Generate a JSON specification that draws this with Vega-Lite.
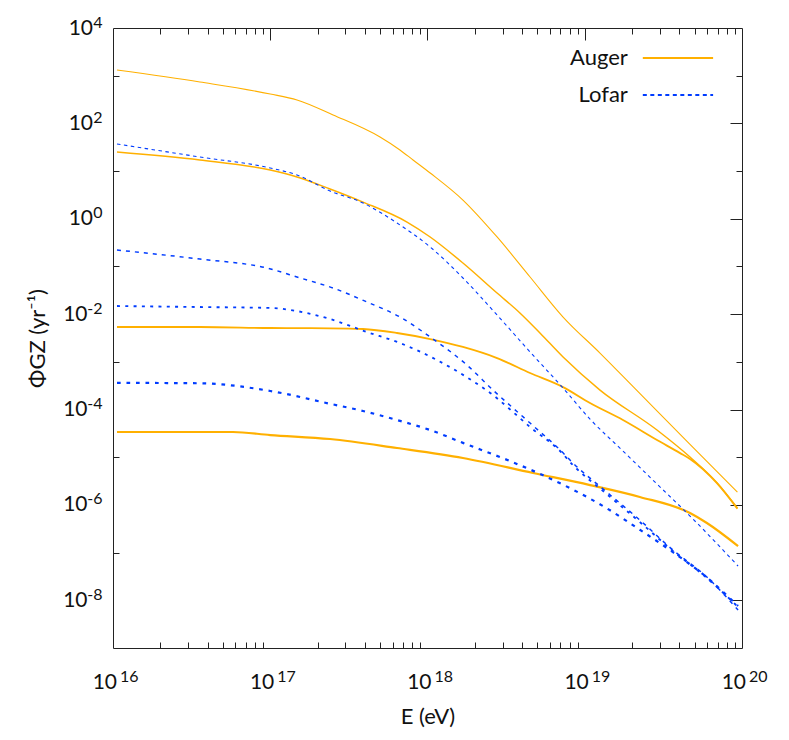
{
  "$schema": "https://vega.github.io/schema/vega-lite/v6.json",
  "width": 629,
  "height": 620,
  "autosize": {"type": "none"},
  "padding": {"left": 113, "top": 28, "right": 47, "bottom": 92},
  "background": "white",
  "config": {
    "font": "Lato",
    "view": {"stroke": "#222", "strokeWidth": 1},
    "axis": {
      "domain": false,
      "grid": false,
      "labelFlush": false,
      "labelOverlap": false,
      "labelColor": "#111",
      "labelFont": "Lato",
      "tickColor": "#222",
      "tickWidth": 1,
      "titleColor": "#111",
      "titleFont": "Lato",
      "titleFontWeight": "normal"
    }
  },
  "data": {
    "values": [
      {"detector": "Auger", "curve": 1, "E": 1.06e16, "phi": 1315},
      {"detector": "Auger", "curve": 1, "E": 3.57e16, "phi": 738},
      {"detector": "Auger", "curve": 1, "E": 1e17, "phi": 413},
      {"detector": "Auger", "curve": 1, "E": 1.48e17, "phi": 309},
      {"detector": "Auger", "curve": 1, "E": 2.51e17, "phi": 150},
      {"detector": "Auger", "curve": 1, "E": 4.99e17, "phi": 51.8},
      {"detector": "Auger", "curve": 1, "E": 6.68e17, "phi": 27.7},
      {"detector": "Auger", "curve": 1, "E": 8.09e17, "phi": 17.1},
      {"detector": "Auger", "curve": 1, "E": 1.04e18, "phi": 9.12},
      {"detector": "Auger", "curve": 1, "E": 1.68e18, "phi": 2.47},
      {"detector": "Auger", "curve": 1, "E": 2.77e18, "phi": 0.415},
      {"detector": "Auger", "curve": 1, "E": 4.49e18, "phi": 0.0601},
      {"detector": "Auger", "curve": 1, "E": 7.28e18, "phi": 8.71e-3},
      {"detector": "Auger", "curve": 1, "E": 1.25e19, "phi": 1.53e-3},
      {"detector": "Auger", "curve": 1, "E": 2.09e19, "phi": 2.75e-4},
      {"detector": "Auger", "curve": 1, "E": 4.67e19, "phi": 1.87e-5},
      {"detector": "Auger", "curve": 1, "E": 9.35e19, "phi": 1.86e-6},

      {"detector": "Auger", "curve": 2, "E": 1.06e16, "phi": 25.1},
      {"detector": "Auger", "curve": 2, "E": 3.57e16, "phi": 17.1},
      {"detector": "Auger", "curve": 2, "E": 1e17, "phi": 10.5},
      {"detector": "Auger", "curve": 2, "E": 1.48e17, "phi": 7.52},
      {"detector": "Auger", "curve": 2, "E": 2.40e17, "phi": 4.21},
      {"detector": "Auger", "curve": 2, "E": 3.89e17, "phi": 2.24},
      {"detector": "Auger", "curve": 2, "E": 7.41e17, "phi": 0.855},
      {"detector": "Auger", "curve": 2, "E": 1.04e18, "phi": 0.415},
      {"detector": "Auger", "curve": 2, "E": 1.68e18, "phi": 0.118},
      {"detector": "Auger", "curve": 2, "E": 2.77e18, "phi": 0.0277},
      {"detector": "Auger", "curve": 2, "E": 3.87e18, "phi": 0.0106},
      {"detector": "Auger", "curve": 2, "E": 5.19e18, "phi": 4.03e-3},
      {"detector": "Auger", "curve": 2, "E": 7.28e18, "phi": 1.26e-3},
      {"detector": "Auger", "curve": 2, "E": 1.25e19, "phi": 2.56e-4},
      {"detector": "Auger", "curve": 2, "E": 2.88e19, "phi": 3.72e-5},
      {"detector": "Auger", "curve": 2, "E": 4.67e19, "phi": 1.01e-5},
      {"detector": "Auger", "curve": 2, "E": 6.93e19, "phi": 2.93e-6},
      {"detector": "Auger", "curve": 2, "E": 9.35e19, "phi": 8.6e-7},

      {"detector": "Auger", "curve": 3, "E": 1.06e16, "phi": 5.37e-3},
      {"detector": "Auger", "curve": 3, "E": 3.57e16, "phi": 5.37e-3},
      {"detector": "Auger", "curve": 3, "E": 1e17, "phi": 5.12e-3},
      {"detector": "Auger", "curve": 3, "E": 2.40e17, "phi": 5.05e-3},
      {"detector": "Auger", "curve": 3, "E": 3.89e17, "phi": 4.88e-3},
      {"detector": "Auger", "curve": 3, "E": 6.40e17, "phi": 4.03e-3},
      {"detector": "Auger", "curve": 3, "E": 1.04e18, "phi": 3.01e-3},
      {"detector": "Auger", "curve": 3, "E": 1.68e18, "phi": 2.05e-3},
      {"detector": "Auger", "curve": 3, "E": 2.77e18, "phi": 1.20e-3},
      {"detector": "Auger", "curve": 3, "E": 4.49e18, "phi": 5.83e-4},
      {"detector": "Auger", "curve": 3, "E": 7.28e18, "phi": 2.96e-4},
      {"detector": "Auger", "curve": 3, "E": 1.08e19, "phi": 1.37e-4},
      {"detector": "Auger", "curve": 3, "E": 1.75e19, "phi": 6.03e-5},
      {"detector": "Auger", "curve": 3, "E": 2.88e19, "phi": 2.30e-5},
      {"detector": "Auger", "curve": 3, "E": 4.04e19, "phi": 1.22e-5},
      {"detector": "Auger", "curve": 3, "E": 4.67e19, "phi": 9.18e-6},
      {"detector": "Auger", "curve": 3, "E": 6.93e19, "phi": 2.85e-6},
      {"detector": "Auger", "curve": 3, "E": 9.35e19, "phi": 8.3e-7},

      {"detector": "Auger", "curve": 4, "E": 1.06e16, "phi": 3.38e-5},
      {"detector": "Auger", "curve": 4, "E": 5.79e16, "phi": 3.38e-5},
      {"detector": "Auger", "curve": 4, "E": 1e17, "phi": 2.92e-5},
      {"detector": "Auger", "curve": 4, "E": 2.40e17, "phi": 2.41e-5},
      {"detector": "Auger", "curve": 4, "E": 6.40e17, "phi": 1.56e-5},
      {"detector": "Auger", "curve": 4, "E": 1.68e18, "phi": 9.62e-6},
      {"detector": "Auger", "curve": 4, "E": 4.69e18, "phi": 4.67e-6},
      {"detector": "Auger", "curve": 4, "E": 1.08e19, "phi": 2.61e-6},
      {"detector": "Auger", "curve": 4, "E": 2.24e19, "phi": 1.47e-6},
      {"detector": "Auger", "curve": 4, "E": 4.67e19, "phi": 6.76e-7},
      {"detector": "Auger", "curve": 4, "E": 5.98e19, "phi": 4.18e-7},
      {"detector": "Auger", "curve": 4, "E": 9.44e19, "phi": 1.37e-7},

      {"detector": "Lofar", "curve": 1, "E": 1.06e16, "phi": 37.0},
      {"detector": "Lofar", "curve": 1, "E": 3.57e16, "phi": 19.7},
      {"detector": "Lofar", "curve": 1, "E": 1e17, "phi": 11.6},
      {"detector": "Lofar", "curve": 1, "E": 1.48e17, "phi": 8.28},
      {"detector": "Lofar", "curve": 1, "E": 2.40e17, "phi": 3.82},
      {"detector": "Lofar", "curve": 1, "E": 3.89e17, "phi": 2.14},
      {"detector": "Lofar", "curve": 1, "E": 6.40e17, "phi": 0.815},
      {"detector": "Lofar", "curve": 1, "E": 1.04e18, "phi": 0.256},
      {"detector": "Lofar", "curve": 1, "E": 1.68e18, "phi": 0.0573},
      {"detector": "Lofar", "curve": 1, "E": 2.77e18, "phi": 9.59e-3},
      {"detector": "Lofar", "curve": 1, "E": 4.49e18, "phi": 1.61e-3},
      {"detector": "Lofar", "curve": 1, "E": 7.28e18, "phi": 2.82e-4},
      {"detector": "Lofar", "curve": 1, "E": 1.08e19, "phi": 6.32e-5},
      {"detector": "Lofar", "curve": 1, "E": 1.75e19, "phi": 1.35e-5},
      {"detector": "Lofar", "curve": 1, "E": 2.88e19, "phi": 2.74e-6},
      {"detector": "Lofar", "curve": 1, "E": 4.67e19, "phi": 5.85e-7},
      {"detector": "Lofar", "curve": 1, "E": 9.44e19, "phi": 5.24e-8},

      {"detector": "Lofar", "curve": 2, "E": 1.06e16, "phi": 0.221},
      {"detector": "Lofar", "curve": 2, "E": 3.57e16, "phi": 0.143},
      {"detector": "Lofar", "curve": 2, "E": 9.53e16, "phi": 0.0927},
      {"detector": "Lofar", "curve": 2, "E": 1.55e17, "phi": 0.0573},
      {"detector": "Lofar", "curve": 2, "E": 2.51e17, "phi": 0.0353},
      {"detector": "Lofar", "curve": 2, "E": 4.12e17, "phi": 0.018},
      {"detector": "Lofar", "curve": 2, "E": 6.68e17, "phi": 8.71e-3},
      {"detector": "Lofar", "curve": 2, "E": 1.04e18, "phi": 3.32e-3},
      {"detector": "Lofar", "curve": 2, "E": 1.78e18, "phi": 8.59e-4},
      {"detector": "Lofar", "curve": 2, "E": 2.61e18, "phi": 2.56e-4},
      {"detector": "Lofar", "curve": 2, "E": 4.49e18, "phi": 5.21e-5},
      {"detector": "Lofar", "curve": 2, "E": 6.97e18, "phi": 1.42e-5},
      {"detector": "Lofar", "curve": 2, "E": 8.41e18, "phi": 7.57e-6},
      {"detector": "Lofar", "curve": 2, "E": 1.38e19, "phi": 1.86e-6},
      {"detector": "Lofar", "curve": 2, "E": 2.24e19, "phi": 4.82e-7},
      {"detector": "Lofar", "curve": 2, "E": 3.64e19, "phi": 1.13e-7},
      {"detector": "Lofar", "curve": 2, "E": 5.98e19, "phi": 3.08e-8},
      {"detector": "Lofar", "curve": 2, "E": 9.44e19, "phi": 6.25e-9},

      {"detector": "Lofar", "curve": 3, "E": 1.06e16, "phi": 0.0148},
      {"detector": "Lofar", "curve": 3, "E": 3.57e16, "phi": 0.0141},
      {"detector": "Lofar", "curve": 3, "E": 1e17, "phi": 0.0135},
      {"detector": "Lofar", "curve": 3, "E": 1.48e17, "phi": 0.0116},
      {"detector": "Lofar", "curve": 3, "E": 2.40e17, "phi": 7.91e-3},
      {"detector": "Lofar", "curve": 3, "E": 4.12e17, "phi": 4.22e-3},
      {"detector": "Lofar", "curve": 3, "E": 6.68e17, "phi": 2.48e-3},
      {"detector": "Lofar", "curve": 3, "E": 1.15e18, "phi": 1.09e-3},
      {"detector": "Lofar", "curve": 3, "E": 1.81e18, "phi": 4.58e-4},
      {"detector": "Lofar", "curve": 3, "E": 2.61e18, "phi": 2.01e-4},
      {"detector": "Lofar", "curve": 3, "E": 3.50e18, "phi": 8.87e-5},
      {"detector": "Lofar", "curve": 3, "E": 4.49e18, "phi": 4.30e-5},
      {"detector": "Lofar", "curve": 3, "E": 6.97e18, "phi": 1.35e-5},
      {"detector": "Lofar", "curve": 3, "E": 8.41e18, "phi": 6.87e-6},
      {"detector": "Lofar", "curve": 3, "E": 1.38e19, "phi": 1.69e-6},
      {"detector": "Lofar", "curve": 3, "E": 2.24e19, "phi": 4.38e-7},
      {"detector": "Lofar", "curve": 3, "E": 3.64e19, "phi": 1.08e-7},
      {"detector": "Lofar", "curve": 3, "E": 5.98e19, "phi": 2.93e-8},
      {"detector": "Lofar", "curve": 3, "E": 9.44e19, "phi": 7.23e-9},

      {"detector": "Lofar", "curve": 4, "E": 1.06e16, "phi": 3.63e-4},
      {"detector": "Lofar", "curve": 4, "E": 3.57e16, "phi": 3.55e-4},
      {"detector": "Lofar", "curve": 4, "E": 1e17, "phi": 2.45e-4},
      {"detector": "Lofar", "curve": 4, "E": 2.40e17, "phi": 1.32e-4},
      {"detector": "Lofar", "curve": 4, "E": 3.89e17, "phi": 9.33e-5},
      {"detector": "Lofar", "curve": 4, "E": 6.40e17, "phi": 6.03e-5},
      {"detector": "Lofar", "curve": 4, "E": 1.04e18, "phi": 3.72e-5},
      {"detector": "Lofar", "curve": 4, "E": 1.68e18, "phi": 2.0e-5},
      {"detector": "Lofar", "curve": 4, "E": 3.35e18, "phi": 8.3e-6},
      {"detector": "Lofar", "curve": 4, "E": 5.44e18, "phi": 4.17e-6},
      {"detector": "Lofar", "curve": 4, "E": 8.41e18, "phi": 2.09e-6},
      {"detector": "Lofar", "curve": 4, "E": 1.38e19, "phi": 8.5e-7},
      {"detector": "Lofar", "curve": 4, "E": 2.24e19, "phi": 3.02e-7},
      {"detector": "Lofar", "curve": 4, "E": 3.64e19, "phi": 1.02e-7},
      {"detector": "Lofar", "curve": 4, "E": 5.98e19, "phi": 3.02e-8},
      {"detector": "Lofar", "curve": 4, "E": 9.44e19, "phi": 7.6e-9}
    ]
  },
  "layer": [
    {
      "transform": [{"filter": "datum.detector === 'Auger'"}],
      "mark": {"type": "line", "color": "#ffb000", "interpolate": "monotone"},
      "encoding": {
        "x": {
          "field": "E",
          "type": "quantitative",
          "scale": {"type": "log", "domain": [1e16, 1e20], "nice": false},
          "axis": {
            "orient": "bottom",
            "values": [1e16, 1e17, 1e18, 1e19, 1e20],
            "labelExpr": "'10'",
            "labelAlign": "right",
            "labelBaseline": "top",
            "labelOffset": 3.5,
            "labelPadding": 23.5,
            "labelFontSize": 21,
            "ticks": false,
            "title": "E (eV)",
            "titleFontSize": 22,
            "titlePadding": 14
          }
        },
        "y": {
          "field": "phi",
          "type": "quantitative",
          "scale": {"type": "log", "domain": [1e-9, 1e4], "nice": false},
          "axis": {
            "orient": "left",
            "values": [1, 1e2, 1e4],
            "labelExpr": "'10'",
            "labelAlign": "right",
            "labelBaseline": "middle",
            "labelPadding": 20.5,
            "labelFontSize": 21,
            "ticks": false,
            "title": "ΦGZ (yr⁻¹)",
            "titleFontSize": 22,
            "titlePadding": 19
          }
        },
        "strokeWidth": {
          "field": "curve",
          "type": "ordinal",
          "scale": {"domain": [1, 2, 3, 4], "range": [1.1, 2.2, 3.2, 4.4]},
          "legend": null
        }
      }
    },
    {
      "transform": [{"filter": "datum.detector === 'Lofar'"}],
      "mark": {"type": "line", "color": "#003cff", "interpolate": "monotone"},
      "encoding": {
        "x": {
          "field": "E",
          "type": "quantitative",
          "axis": {
            "orient": "bottom",
            "values": [1e16, 1e17, 1e18, 1e19, 1e20],
            "labelExpr": "'' + round(log(datum.value) / LN10)",
            "labelAlign": "left",
            "labelBaseline": "top",
            "labelOffset": 6.5,
            "labelPadding": 20,
            "labelFontSize": 16,
            "ticks": false,
            "title": null
          }
        },
        "y": {
          "field": "phi",
          "type": "quantitative",
          "axis": {
            "orient": "left",
            "values": [1e-8, 1e-6, 1e-4, 1e-2, 1, 1e2, 1e4],
            "labelExpr": "'' + round(log(datum.value) / LN10)",
            "labelAlign": "right",
            "labelBaseline": "middle",
            "labelOffset": -6,
            "labelPadding": 11,
            "labelFontSize": 16,
            "ticks": false,
            "title": null
          }
        },
        "strokeWidth": {"field": "curve", "type": "ordinal", "legend": null},
        "strokeDash": {
          "field": "curve",
          "type": "ordinal",
          "scale": {"domain": [1, 2, 3, 4], "range": [[3.5, 3.5], [4, 5], [3, 5.3], [3.7, 5.8]]},
          "legend": null
        }
      }
    },
    {
      "data": {"values": [{"label": "Auger"}]},
      "mark": {"type": "text", "align": "right", "baseline": "middle", "fontSize": 22, "color": "#111"},
      "encoding": {
        "x": {
          "datum": 1.88e19,
          "type": "quantitative",
          "axis": {
            "orient": "bottom",
            "values": [2e16, 3e16, 4e16, 5e16, 6e16, 7e16, 8e16, 9e16, 2e17, 3e17, 4e17, 5e17, 6e17, 7e17, 8e17, 9e17, 2e18, 3e18, 4e18, 5e18, 6e18, 7e18, 8e18, 9e18, 2e19, 3e19, 4e19, 5e19, 6e19, 7e19, 8e19, 9e19],
            "labels": false,
            "tickSize": -6,
            "title": null
          }
        },
        "y": {
          "datum": 2350,
          "type": "quantitative",
          "axis": {
            "orient": "left",
            "values": [1e-7, 1e-5, 1e-3, 0.1, 10, 1000],
            "labels": false,
            "tickSize": -6,
            "title": null
          }
        },
        "text": {"field": "label"}
      }
    },
    {
      "data": {"values": [{"label": "Auger"}]},
      "mark": {"type": "rule", "color": "#ffb000", "strokeWidth": 2.2},
      "encoding": {
        "x": {
          "datum": 2.34e19,
          "type": "quantitative",
          "axis": {
            "orient": "top",
            "values": [1e17, 1e18, 1e19],
            "labels": false,
            "tickSize": -12,
            "title": null
          }
        },
        "x2": {"datum": 6.55e19},
        "y": {
          "datum": 2350,
          "type": "quantitative",
          "axis": {
            "orient": "right",
            "values": [1e-8, 1e-6, 1e-4, 1e-2, 1, 1e2],
            "labels": false,
            "tickSize": -12,
            "title": null
          }
        }
      }
    },
    {
      "data": {"values": [{"label": "Lofar"}]},
      "mark": {"type": "text", "align": "right", "baseline": "middle", "fontSize": 22, "color": "#111"},
      "encoding": {
        "x": {
          "datum": 1.88e19,
          "type": "quantitative",
          "axis": {
            "orient": "top",
            "values": [2e16, 3e16, 4e16, 5e16, 6e16, 7e16, 8e16, 9e16, 2e17, 3e17, 4e17, 5e17, 6e17, 7e17, 8e17, 9e17, 2e18, 3e18, 4e18, 5e18, 6e18, 7e18, 8e18, 9e18, 2e19, 3e19, 4e19, 5e19, 6e19, 7e19, 8e19, 9e19],
            "labels": false,
            "tickSize": -6,
            "title": null
          }
        },
        "y": {
          "datum": 394,
          "type": "quantitative",
          "axis": {
            "orient": "right",
            "values": [1e-7, 1e-5, 1e-3, 0.1, 10, 1000],
            "labels": false,
            "tickSize": -6,
            "title": null
          }
        },
        "text": {"field": "label"}
      }
    },
    {
      "data": {"values": [{"label": "Lofar"}]},
      "mark": {"type": "rule", "color": "#003cff", "strokeWidth": 2.2, "strokeDash": [4, 3.5]},
      "encoding": {
        "x": {"datum": 2.34e19, "type": "quantitative", "axis": null},
        "x2": {"datum": 6.55e19},
        "y": {
          "datum": 394,
          "type": "quantitative",
          "axis": {
            "orient": "left",
            "values": [1e-8, 1e-6, 1e-4, 1e-2],
            "labelExpr": "'10'",
            "labelAlign": "right",
            "labelBaseline": "middle",
            "labelPadding": 26,
            "labelFontSize": 21,
            "ticks": false,
            "title": null
          }
        }
      }
    }
  ],
  "resolve": {"axis": {"x": "independent", "y": "independent"}}
}
